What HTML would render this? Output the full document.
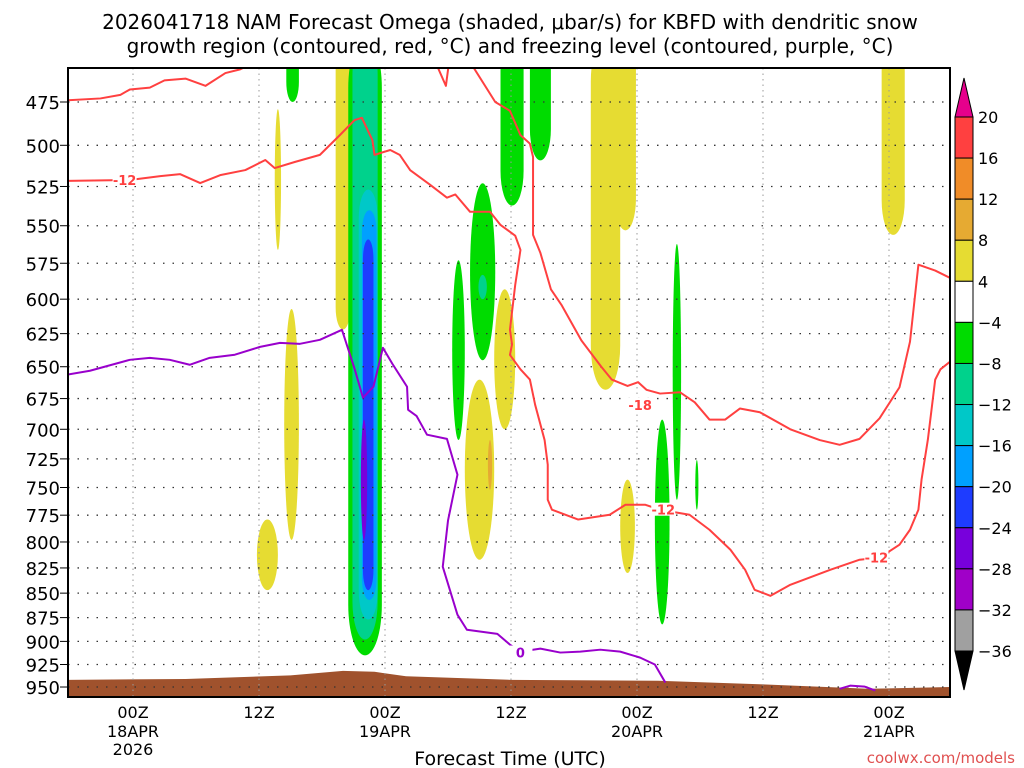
<!DOCTYPE html>
<html><head><meta charset="utf-8"><style>
html,body{margin:0;padding:0;background:#fff;width:1024px;height:768px;overflow:hidden}
svg text{font-family:"DejaVu Sans","Liberation Sans",sans-serif}
</style></head><body>
<svg id="chart" width="1024" height="768" xmlns="http://www.w3.org/2000/svg">
<text x="510" y="29" font-size="20" text-anchor="middle">2026041718 NAM Forecast Omega (shaded, μbar/s) for KBFD with dendritic snow</text>
<text x="510" y="53" font-size="20" text-anchor="middle">growth region (contoured, red, °C) and freezing level (contoured, purple, °C)</text>
<defs><clipPath id="pc"><rect x="68" y="68" width="882" height="629"/></clipPath></defs>
<g id="plot" clip-path="url(#pc)"></g>
<g id="axes"></g>
<text x="510" y="765" font-size="19" text-anchor="middle">Forecast Time (UTC)</text>
<text x="1015" y="763" font-size="15" text-anchor="end" fill="#e05050">coolwx.com/models</text>
</svg>
<script>
const levels=[475,500,525,550,575,600,625,650,675,700,725,750,775,800,825,850,875,900,925,950];
const timeTicks=[0,12,24,36,48,60,72];
const timeLabels=["00Z","12Z","00Z","12Z","00Z","12Z","00Z"];
const dateLabels=["18APR","","19APR","","20APR","","21APR"];
const cbValues=[20,16,12,8,4,-4,-8,-12,-16,-20,-24,-28,-32,-36];
const cbColors=["#ff4040","#f08c28","#e6aa32","#e6dc32","#ffffff","#00dc00","#00d28c","#00c8c8","#00a0ff","#1e3cff","#7800dc","#a000c8","#a0a0a0"];
const redA=[[-6.2,474],[-3.1,473],[-1.2,471],[-0.3,468],[1.6,467],[3,463],[5,462],[6.9,466],[8.8,459],[10.2,457],[11.6,453]];
const redB=[[32.1,453],[34.5,475],[35.9,480],[36.9,494],[37.8,499],[38.1,507],[38.1,556],[38.8,568],[39.8,593],[40.8,604],[42.7,630],[44.6,650],[45.6,660],[47.1,665],[48.1,662],[48.9,668],[50.2,671],[52.1,670],[53.5,678],[54.9,692],[56.4,692],[57.8,683],[59.7,686],[62.6,700],[65.4,709],[67.3,713],[69.2,708],[71.1,691],[73,666],[74,631],[74.8,576],[76.4,580],[77.8,585]];
const redC=[[28.8,453],[29.8,466],[30.1,453]];
const redD=[[-6.2,521.5],[-0.3,521],[2.6,518.6],[4.5,517.4],[6.4,522.9],[8.3,518],[10.7,514.9],[12.6,508.8],[13.5,513.7],[15.4,510],[17.8,505.7],[19.7,494],[21.1,485.3],[21.8,484],[22.8,497],[23,505.7],[24.5,502.8],[25.4,505.7],[26.4,515],[28.3,524],[29.9,532],[30.7,530],[32.1,541],[34,541],[35,549.5],[36.4,556.5],[36.9,566],[36.4,590],[35.9,622],[36.1,633],[35.9,641],[36.9,652],[37.8,660],[38.3,680],[39.2,709],[39.5,730],[39.5,761],[39.9,770],[42.4,779],[45.4,774.6],[46.9,765.5],[48.8,765.5],[50.2,770],[53,774.6],[54.9,788.5],[56.9,807.4],[58.3,826.8],[59.2,846.6],[60.7,852.7],[62.6,841.6],[66.4,826.8],[69.2,817],[71.1,815],[73,802.6],[74,788.5],[74.8,770],[75.1,743],[75.7,708.7],[76.4,660],[76.9,652],[77.8,646.2]];
const purpleE=[[-6.2,656],[-4.1,653.1],[-0.3,644.7],[1.6,643.2],[3.5,644.7],[5.4,648.5],[7.3,643.2],[9.7,640.8],[12.1,634.9],[14,631.9],[15.9,632.6],[17.8,629.6],[19.9,622.2],[21.1,651.5],[21.9,674.3],[22.9,665.6],[23.8,635.6],[24.7,647.7],[26.1,665.6],[26.2,684],[27,689],[28,704.5],[29.9,708],[30.9,738.7],[30,780],[29.5,823.8],[30.9,872],[31.8,887.7],[34.7,892],[35.9,903.5],[36.9,911],[38.8,907.8],[40.7,912],[42.6,911],[44.5,908.9],[46.4,911],[48.3,917.5],[49.7,925],[50.7,945]];
const purpleF=[[67.3,952],[68.3,948.5],[69.7,949.6],[70.7,954]];
const surface=[[-6.2,942],[5,941],[15,937],[20,932],[23,933],[26,938],[36,942],[50,943],[60,947],[70,952],[78,950]];
// blobs: [hour, pTop, pBottom, halfWidthHours, colorIndex, shape(0=ellipse,1=column)]
const blobs=[[13.8,479,566,0.3,3,0],[15.1,607,798,0.7,3,0],[12.8,779,847,1.0,3,0],[20,440,622,0.7,3,1],
[22.1,440,915,1.6,5,1],[22.1,440,898,1.2,6,1],[22.4,527,877,0.9,7,1],[22.5,540,857,0.7,8,1],[22.4,559,847,0.5,9,1],[22.0,692,798,0.3,10,0],
[15.2,440,475,0.6,5,1],[31,573,709,0.6,5,0],[33.3,523,645,1.2,5,0],[33.3,583,600,0.4,6,1],
[35.4,593,700,1.0,3,0],[33,660,817,1.4,3,0],[34,709,752,0.2,2,0],
[36.1,440,537,1.1,5,1],[38.8,440,509,1.0,5,1],[45,440,668,1.4,3,1],[46.9,440,553,1.0,3,1],[47.1,743,830,0.7,3,0],
[50.4,692,882,0.7,5,0],[51.8,562,761,0.4,5,0],[53.7,726,770,0.15,5,0],[72.4,440,556,1.1,3,1]];
const labels=[[-0.8,521,"-12","#ff4040"],[70.8,815,"-12","#ff4040"],[48.3,680,"-18","#ff4040"],[50.5,770,"-12","#ff4040"],[36.9,912,"0","#9900cc"]];

const X=h=>133+h*10.5, Y=p=>102+844*Math.log(p/475);
const NS="http://www.w3.org/2000/svg";
const plot=document.getElementById('plot'), axes=document.getElementById('axes');
function mk(tag,attrs,parent){const e=document.createElementNS(NS,tag);for(const k in attrs)e.setAttribute(k,attrs[k]);parent.appendChild(e);return e;}
blobs.forEach(b=>{
  const y1=Y(b[1]), y2=Y(b[2]), rx=b[3]*10.5;
  let e;
  if(b[5]===1){
    e=mk('rect',{x:X(b[0])-rx,y:y1,width:2*rx,height:y2-y1,rx:rx,ry:Math.min((y2-y1)/2,Math.max(rx*3,20)),fill:cbColors[b[4]]},plot);
  } else {
    e=mk('ellipse',{cx:X(b[0]),cy:(y1+y2)/2,rx:rx,ry:(y2-y1)/2,fill:cbColors[b[4]]},plot);
  }
  
  
});
const sp=surface.map(s=>X(s[0])+','+Y(s[1])).join(' ');
const terr=mk('polygon',{points:sp+' '+X(78)+',700 '+X(-6.2)+',700',fill:'#a0522d'},plot);


levels.forEach(p=>{const l=mk('line',{x1:68,x2:950,y1:Y(p),y2:Y(p),stroke:'#333','stroke-dasharray':'1.5,8','stroke-width':1.3},plot);
  
  });
timeTicks.forEach(t=>{const l=mk('line',{x1:X(t),x2:X(t),y1:68,y2:697,stroke:'#999','stroke-dasharray':'1.5,4'},plot);
  
  });
function line(arr,col,name){const e=mk('polyline',{points:arr.map(a=>X(a[0])+','+Y(a[1])).join(' '),fill:'none',stroke:col,'stroke-width':2,'stroke-linejoin':'round'},plot);
  
  }
line(redA,'#ff4040','dgz-contour-upper');line(redB,'#ff4040','dgz-contour-east');line(redC,'#ff4040','dgz-contour-loop');
line(redD,'#ff4040','dgz-contour-lower');line(purpleE,'#9900cc','freezing-level');line(purpleF,'#9900cc','freezing-level-arc');
labels.forEach(l=>{const bg=mk('rect',{x:X(l[0])-12,y:Y(l[1])-7,width:24,height:13,fill:'#fff'},plot);
  
  
  const t=mk('text',{x:X(l[0]),y:Y(l[1])+5,'font-size':13,'font-weight':'bold','text-anchor':'middle',fill:l[3]},plot);t.textContent=l[2];
  
  });
const fr=mk('rect',{x:68,y:68,width:882,height:629,fill:'none',stroke:'#000','stroke-width':2},axes);


levels.forEach(p=>{const t=mk('text',{x:60,y:Y(p)+7,'font-size':18,'text-anchor':'end'},axes);t.textContent=p;
  
  
  mk('line',{x1:60,x2:68,y1:Y(p),y2:Y(p),stroke:'#000'},axes);});
timeTicks.forEach((t,i)=>{const a=mk('text',{x:X(t),y:718,'font-size':16,'text-anchor':'middle'},axes);a.textContent=timeLabels[i];
  
  
  if(dateLabels[i]){const d=mk('text',{x:X(t),y:737,'font-size':16,'text-anchor':'middle'},axes);d.textContent=dateLabels[i];
    
    }});
const yr=mk('text',{x:X(0),y:755,'font-size':16,'text-anchor':'middle'},axes);yr.textContent="2026";


// colorbar
const cbTop=117, seg=(651-117)/13, cx0=955, cw=18;
const cb=mk('g',{},axes);


cbColors.forEach((c,i)=>mk('rect',{x:cx0,y:cbTop+i*seg,width:cw,height:seg,fill:c,stroke:'#000','stroke-width':1},cb));
mk('polygon',{points:`${cx0},${cbTop} ${cx0+cw},${cbTop} ${cx0+cw/2},78`,fill:'#e6008c',stroke:'#000'},cb);
mk('polygon',{points:`${cx0},651 ${cx0+cw},651 ${cx0+cw/2},690`,fill:'#000',stroke:'#000'},cb);
cbValues.forEach((v,i)=>{const t=mk('text',{x:978,y:cbTop+i*seg+6,'font-size':16},cb);t.textContent=v<0?'\u2212'+(-v):v;
  
  });
</script>
</body></html>
